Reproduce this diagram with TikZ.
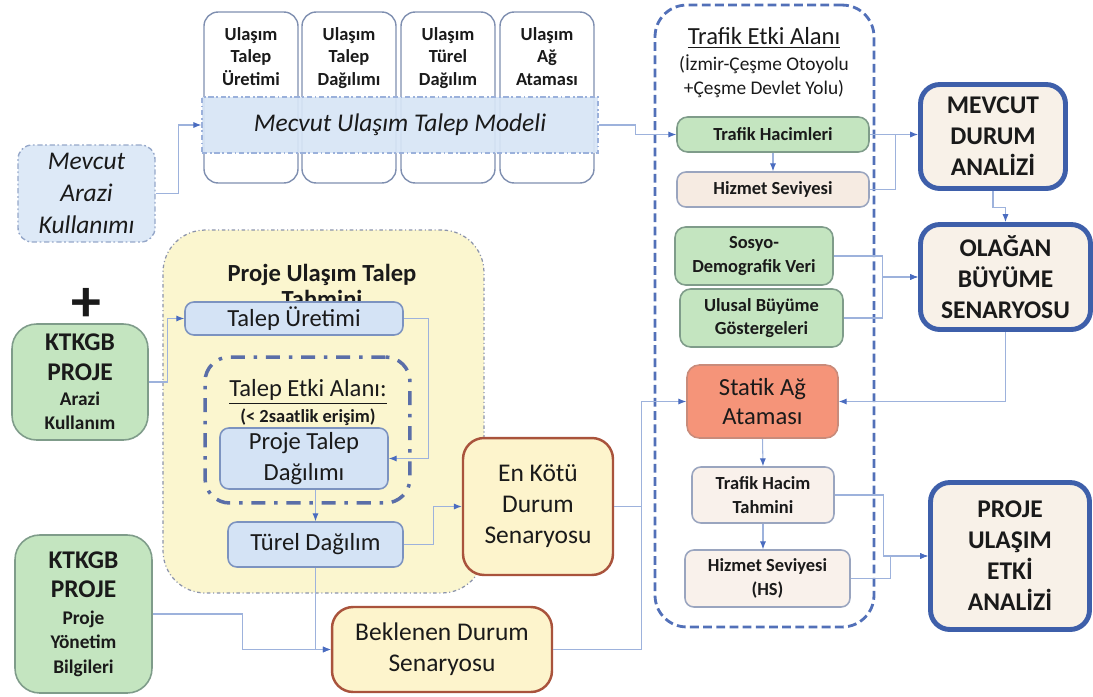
\documentclass[tikz,border=0pt]{standalone}
\usepackage{fontspec}
\setmainfont{Carlito}
\usetikzlibrary{arrows.meta,calc}
\definecolor{textc}{HTML}{1A1A1A}
\definecolor{colline}{HTML}{7F8FB0}
\definecolor{bandfill}{HTML}{D7E5F6}
\definecolor{bandline}{HTML}{9BB1DB}
\definecolor{lbfill}{HTML}{D4E3F5}
\definecolor{lbline}{HTML}{7C93C0}
\definecolor{grfill}{HTML}{C4E5C0}
\definecolor{grline}{HTML}{7F9C8A}
\definecolor{bgfill}{HTML}{F6EBE2}
\definecolor{bgline}{HTML}{9AA5BF}
\definecolor{salfill}{HTML}{F59479}
\definecolor{salline}{HTML}{C98B7A}
\definecolor{yefill}{HTML}{FDF4CC}
\definecolor{yeline}{HTML}{A9533C}
\definecolor{bigfill}{HTML}{F8F1E8}
\definecolor{bigline}{HTML}{3E5FAA}
\definecolor{tealine}{HTML}{5270B8}
\definecolor{ptfill}{HTML}{FBF6CF}
\definecolor{ptline}{HTML}{8B93AB}
\definecolor{teline}{HTML}{5A6EA8}
\definecolor{connc}{HTML}{9DB2DC}
\definecolor{arrc}{HTML}{4A6CC0}
\newcommand{\fsz}[2]{\fontsize{#1}{#2}\selectfont}

\begin{document}
\begin{tikzpicture}[x=0.02cm,y=-0.02cm,
  every node/.style={align=center,text=textc,inner sep=1pt},
  col/.style={draw=colline,fill=white,rounded corners=8pt,line width=0.8pt,minimum width=1.88cm,minimum height=3.42cm},
  coltxt/.style={font=\bfseries\fsz{10.5}{12.8},anchor=north},
  band/.style={draw=bandline,fill=bandfill,fill opacity=0.92,text opacity=1,line width=0.8pt,dash pattern=on 3pt off 1.5pt on 1pt off 1.5pt,font=\itshape\fsz{14.5}{18}},
  mak/.style={draw=bandline!80!gray,fill=lbfill!80,line width=0.8pt,rounded corners=8pt,dash pattern=on 3pt off 1.5pt on 1pt off 1.5pt,font=\itshape\fsz{14.5}{18}},
  lb/.style={draw=lbline,fill=lbfill,line width=0.9pt,rounded corners=5pt,font=\fsz{14}{18}},
  gr/.style={draw=grline,fill=grfill,line width=0.9pt,rounded corners=6pt,font=\bfseries\fsz{10.5}{13.2}},
  bg/.style={draw=bgline,fill=bgfill,line width=0.9pt,rounded corners=5pt,font=\bfseries\fsz{10.5}{13.4}},
  sal/.style={draw=salline,fill=salfill,line width=0.9pt,rounded corners=7pt,font=\fsz{14}{17}},
  ye/.style={draw=yeline,fill=yefill,line width=1.4pt,rounded corners=12pt,font=\fsz{14.5}{17.6}},
  big/.style={draw=bigline,fill=bigfill,line width=2.8pt,rounded corners=11pt,font=\bfseries\fsz{14.5}{17.6}},
  ktk/.style={draw=grline,fill=grfill,line width=0.9pt,rounded corners=14pt,font=\bfseries\fsz{14.5}{17}},
  conn/.style={draw=connc,line width=0.6pt},
  arr/.style={conn,-{Latex[length=4.5pt,width=3.5pt,color=arrc]}}]
\useasboundingbox (0,0) rectangle (1093,697);

%TRAFIK ETKI ALANI
\node[draw=tealine,line width=1.6pt,dash pattern=on 5pt off 2.5pt,rounded corners=18pt,minimum width=4.38cm,minimum height=12.44cm] (tea) at (764.5,316) {};
\node[font=\fsz{14}{17}] at (764,38) {\underline{Trafik Etki Alanı}};
\node[font=\fsz{11}{13.6}] at (764,76) {(İzmir-Çeşme Otoyolu\\+Çeşme Devlet Yolu)};

%PROJE ULASIM TALEP TAHMINI
\node[draw=ptline,fill=ptfill,line width=0.7pt,dash pattern=on 2pt off 1.5pt on 0.6pt off 1.5pt,rounded corners=24pt,minimum width=6.42cm,minimum height=7.26cm] (put) at (323.5,411.5) {};
\node[font=\bfseries\fsz{14}{15.3}] at (322,286) {Proje Ulaşım Talep\\Tahmini};
\node[draw=teline,line width=2pt,dash pattern=on 8pt off 5pt on 2pt off 5pt,rounded corners=14pt,minimum width=4.1cm,minimum height=2.92cm] (tetki) at (307.5,430) {};
\node[font=\fsz{14}{17}] at (308,392) {\underline{Talep Etki Alanı:}};
\node[font=\bfseries\fsz{10.5}{13}] at (308,417) {(< 2saatlik erişim)};

%MEVCUT MODEL
\node[col] (c1) at (251,97.5) {};
\node[col] (c2) at (349,97.5) {};
\node[col] (c3) at (448,97.5) {};
\node[col] (c4) at (547,97.5) {};
\node[coltxt] at ($(c1.north)+(0,14)$) {Ulaşım\\Talep\\Üretimi};
\node[coltxt] at ($(c2.north)+(0,14)$) {Ulaşım\\Talep\\Dağılımı};
\node[coltxt] at ($(c3.north)+(0,14)$) {Ulaşım\\Türel\\Dağılım};
\node[coltxt] at ($(c4.north)+(0,14)$) {Ulaşım\\Ağ\\Ataması};
\node[band,minimum width=7.92cm,minimum height=1.12cm] (band) at (400,125) {Mecvut Ulaşım Talep Modeli};
\node[mak,minimum width=2.74cm,minimum height=1.94cm] (mak) at (86.5,193.5) {Mevcut\\Arazi\\Kullanımı};

%TRAFIK KUTULARI
\node[gr,minimum width=3.84cm,minimum height=0.7cm] (th) at (773,134.5) {Trafik Hacimleri};
\node[bg,minimum width=3.84cm,minimum height=0.7cm] (hsv) at (773,189.5) {Hizmet Seviyesi};
\node[gr,minimum width=3.16cm,minimum height=1.16cm] (sdv) at (754,256) {Sosyo-\\Demografik Veri};
\node[gr,minimum width=3.26cm,minimum height=1.16cm] (ubg) at (761.5,318) {Ulusal Büyüme\\Göstergeleri};
\node[sal,minimum width=3.02cm,minimum height=1.46cm] (sag) at (762.5,401.5) {Statik Ağ\\Ataması};
\node[bg,fill=bgfill!70!white,minimum width=2.84cm,minimum height=1.12cm] (tht) at (763,495) {Trafik Hacim\\Tahmini};
\node[bg,fill=bgfill!70!white,minimum width=3.3cm,minimum height=1.14cm] (hs) at (767.5,578.5) {Hizmet Seviyesi\\(HS)};

%ANALIZ
\node[big,minimum width=2.9cm,minimum height=2.08cm] (mda) at (993,136.5) {MEVCUT\\DURUM\\ANALİZİ};
\node[big,minimum width=3.4cm,minimum height=2.1cm] (ob) at (1005.5,277) {OLAĞAN\\BÜYÜME\\SENARYOSU};
\node[big,minimum width=3.18cm,minimum height=2.94cm] (pua) at (1010,556) {PROJE\\ULAŞIM\\ETKİ\\ANALİZİ};

%SOL
\node[lb,minimum width=4.36cm,minimum height=0.66cm] (tu) at (294,318.5) {Talep Üretimi};
\node[lb,minimum width=3.36cm,minimum height=1.22cm] (ptd) at (304,458.5) {Proje Talep\\Dağılımı};
\node[lb,minimum width=3.5cm,minimum height=0.9cm] (tdg) at (315.5,544.5) {Türel Dağılım};
\node[ye,minimum width=3.0cm,minimum height=2.74cm] (ekd) at (538,506.5) {En Kötü\\Durum\\Senaryosu};
\node[ye,minimum width=4.4cm,minimum height=1.7cm] (bds) at (442,649.5) {Beklenen Durum\\Senaryosu};
\node[font=\bfseries\fsz{34}{34}] (plus) at (86,305) {+};
\node[ktk,minimum width=2.72cm,minimum height=2.32cm] (kpa) at (80,382) {KTKGB\\PROJE\\[-3pt]{\fsz{11}{12.5}Arazi}\\[-3pt]{\fsz{11}{12.5}Kullanım}};
\node[ktk,minimum width=2.74cm,minimum height=3.16cm] (kpy) at (83.5,614) {KTKGB\\PROJE\\[-2pt]{\fsz{11}{13.3}Proje}\\[-3pt]{\fsz{11}{13.3}Yönetim}\\[-3pt]{\fsz{11}{13.3}Bilgileri}};

%OKLAR
\draw[arr] (mak.east) -- ++(23,0) |- (band.west);
\draw[arr] (band.east) -- ++(37,0) |- (th.west);
\draw[arr] (th.east) -- (th.east -| mda.west);
\draw[conn] (hsv.east) -- ++(26,0) |- (th.east);
\draw[arr] (th.south) -- (hsv.north);
\draw[arr] (mda.south) -- ++(0,17) -| (ob.north);
\draw[arr] (sdv.east) -- ++(49,0) |- (ob.west);
\draw[arr] (ubg.east) -- ++(39,0) |- (ob.west);
\draw[arr] (ob.south) |- (sag.east);
\draw[arr] (ekd.east) -- ++(27,0) |- (sag.west);
\draw[conn] (bds.east) -| ($(ekd.east)+(27,0)$);
\draw[arr] (sag.south) -- (tht.north);
\draw[arr] (tht.south) -- (tht.south |- hs.north);
\draw[arr] (tht.east) -- ++(49,0) |- (pua.west);
\draw[arr] (hs.east) -- ++(40,0) |- (pua.west);
\draw[arr] (kpa.east) -- ++(19,0) |- (tu.west);
\draw[arr] (tu.east) -- ++(25,0) |- (ptd.east);
\draw[arr] (ptd.south -| tdg.north) -- (tdg.north);
\draw[arr] (tdg.east) -- ++(30,0) |- (ekd.west);
\draw[arr] (tdg.south) |- (bds.west);
\draw[arr] (kpy.east) -- ++(90,0) |- (bds.west);
\end{tikzpicture}
\end{document}
